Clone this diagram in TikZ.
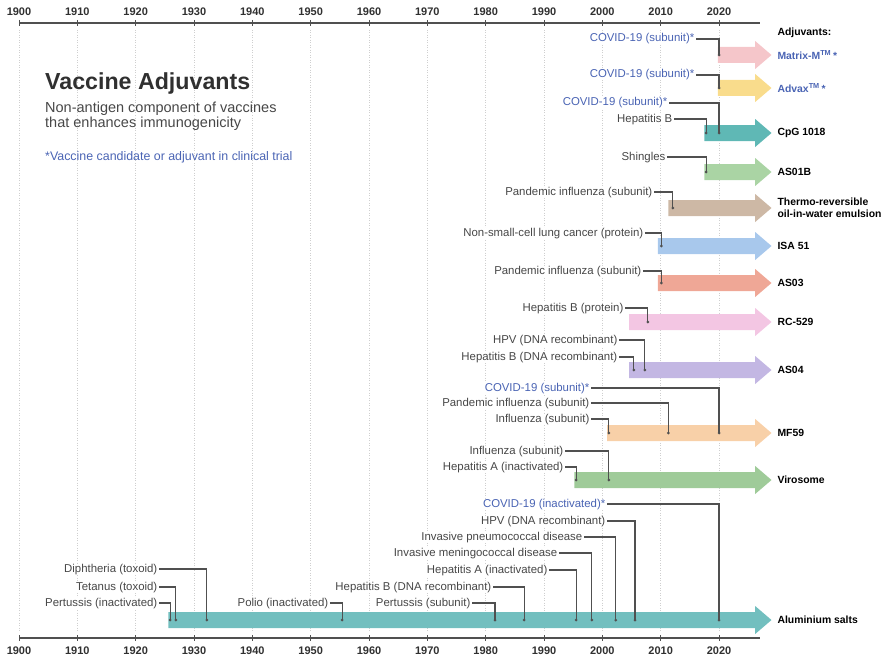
\documentclass[tikz,border=0pt]{standalone}
\usepackage{fontspec}
\setmainfont{Liberation Sans}
\usetikzlibrary{positioning}

\definecolor{labgray}{HTML}{474747}
\definecolor{linegray}{HTML}{505050}
\definecolor{gridgray}{HTML}{CFCFCF}
\definecolor{titlegray}{HTML}{303030}
\definecolor{covblue}{HTML}{4A64B4}
\definecolor{cMatrix}{HTML}{F5C6CA}
\definecolor{cAdvax}{HTML}{F9DC8C}
\definecolor{cCpG}{HTML}{5FB8B5}
\definecolor{cAsOneB}{HTML}{AAD4A4}
\definecolor{cThermo}{HTML}{CDB8A5}
\definecolor{cIsa}{HTML}{A8C8EC}
\definecolor{cAsThree}{HTML}{EFA796}
\definecolor{cRc}{HTML}{F3C6E3}
\definecolor{cAsFour}{HTML}{C3B7E3}
\definecolor{cMf}{HTML}{F8D0A8}
\definecolor{cViro}{HTML}{9FCB99}
\definecolor{cAlum}{HTML}{72BFBF}

% label node, its marker on the band, and the elbow between them
\newcommand{\event}[7]{%
  \node[#2] (#1) at (#3,#4) {#7};
  \coordinate (#1-m) at (#5,#6);
  \draw[link] (#1.east) -| (#1-m);
  \fill[linegray] (#1-m) circle (1.5pt);
}

\begin{document}
\begin{tikzpicture}[x=5.8333pt, y=-1pt,
    lab/.style={anchor=east, text=labgray, fill=white, inner xsep=1.5pt, inner ysep=0.5pt,
      text height=8pt, text depth=2pt, font=\fontsize{11.4}{13}\selectfont},
    cov/.style={lab, text=covblue},
    adj/.style={anchor=west, inner sep=0pt, align=left, font=\bfseries\fontsize{10.4}{12}\selectfont},
    link/.style={draw=linegray, line width=1.1pt},
    yearlab/.style={text=titlegray, font=\bfseries\fontsize{11}{12}\selectfont}]

    \useasboundingbox (-3.2571,0) rectangle (149.3143,658);

    % time axes
    \foreach \d in {0,10,...,120} {
        \draw[gridgray, dotted, line width=0.5pt] (\d,30) -- (\d,632);
        \draw[linegray, line width=1pt] (\d,20) -- (\d,26) (\d,635) -- (\d,641);
        \pgfmathtruncatemacro{\yy}{1900+\d}
        \node[yearlab] (top\yy) at (\d,12) {\yy};
        \node[yearlab] (bot\yy) at (\d,651) {\yy};
    }
    \draw[linegray, line width=1.3pt] (0,23) -- (127,23);
    \draw[linegray, line width=1.3pt] (0,638) -- (127,638);

    % title block
    \node[anchor=base west, inner sep=0pt, text=titlegray, font=\bfseries\fontsize{23.2}{26}\selectfont] (title) at (4.46,90) {Vaccine Adjuvants};
    \node[anchor=base west, inner sep=0pt, align=left, text=labgray, font=\fontsize{14.5}{15.5}\selectfont] (subtitle) at (4.46,128) {Non-antigen component of vaccines\\that enhances immunogenicity};
    \node[anchor=base west, inner sep=0pt, text=covblue, font=\fontsize{12.4}{14}\selectfont] (note) at (4.46,160) {*Vaccine candidate or adjuvant in clinical trial};

    % adjuvant bands
    \foreach \s/\y/\c in {119.8/55/cMatrix, 119.8/88/cAdvax, 117.5/133/cCpG, 117.5/172/cAsOneB,
        111.3/208/cThermo, 109.5/246/cIsa, 109.5/283/cAsThree, 104.6/322/cRc, 104.6/370/cAsFour,
        100.8/433/cMf, 95.2/480/cViro, 25.6/620/cAlum}
        \fill[\c] (\s,\y-8) -- (126.2,\y-8) -- (126.2,\y-14) -- (129,\y) -- (126.2,\y+14)
            -- (126.2,\y+8) -- (\s,\y+8) -- cycle;

    % adjuvant names
    \node[adj] (head) at (130,33) {Adjuvants:};
    \node[adj, text=covblue] (n-matrix) at (130,55) {Matrix-M\textsuperscript{TM}\,*};
    \node[adj, text=covblue] (n-advax) at (130,88) {Advax\textsuperscript{TM}\,*};
    \node[adj] (n-cpg) at (130,133) {CpG 1018};
    \node[adj] (n-asoneb) at (130,172) {AS01B};
    \node[adj] (n-thermo) at (130,208) {Thermo-reversible\\oil-in-water emulsion};
    \node[adj] (n-isa) at (130,246) {ISA 51};
    \node[adj] (n-asthree) at (130,283) {AS03};
    \node[adj] (n-rc) at (130,322) {RC-529};
    \node[adj] (n-asfour) at (130,370) {AS04};
    \node[adj] (n-mf) at (130,433) {MF59};
    \node[adj] (n-viro) at (130,480) {Virosome};
    \node[adj] (n-alum) at (130,620) {Aluminium salts};

    % licensed vaccines and candidates
    \event{mx1}{cov}{116.06}{39}{120}{55}{COVID-19 (subunit)*}
    \event{av1}{cov}{116.06}{75}{120}{88}{COVID-19 (subunit)*}
    \event{cg1}{cov}{111.43}{103}{120}{133}{COVID-19 (subunit)*}
    \event{cg2}{lab}{112.29}{119}{117.8}{133}{Hepatitis B}
    \event{ao1}{lab}{111.09}{157}{117.8}{172}{Shingles}
    \event{tr1}{lab}{108.86}{192}{112.1}{208}{Pandemic influenza (subunit)}
    \event{is1}{lab}{107.31}{233}{110.1}{246}{Non-small-cell lung cancer (protein)}
    \event{at1}{lab}{106.97}{271}{110.1}{283}{Pandemic influenza (subunit)}
    \event{rc1}{lab}{103.89}{308}{107.8}{322}{Hepatitis B (protein)}
    \event{af1}{lab}{102.86}{340}{107.3}{370}{HPV (DNA recombinant)}
    \event{af2}{lab}{102.86}{357}{105.4}{370}{Hepatitis B (DNA recombinant)}
    \event{mf1}{cov}{98.06}{388}{120}{433}{COVID-19 (subunit)*}
    \event{mf2}{lab}{98.06}{403}{111.3}{433}{Pandemic influenza (subunit)}
    \event{mf3}{lab}{98.06}{419}{101.1}{433}{Influenza (subunit)}
    \event{vi1}{lab}{93.60}{451}{101.1}{480}{Influenza (subunit)}
    \event{vi2}{lab}{93.60}{467}{95.5}{480}{Hepatitis A (inactivated)}
    \event{al1}{cov}{100.80}{504}{120}{620}{COVID-19 (inactivated)*}
    \event{al2}{lab}{100.80}{521}{105.6}{620}{HPV (DNA recombinant)}
    \event{al3}{lab}{96.86}{537}{102.3}{620}{Invasive pneumococcal disease}
    \event{al4}{lab}{92.57}{553}{98.2}{620}{Invasive meningococcal disease}
    \event{al5}{lab}{90.86}{570}{95.5}{620}{Hepatitis A (inactivated)}
    \event{al6}{lab}{81.26}{587}{86.6}{620}{Hepatitis B (DNA recombinant)}
    \event{al7}{lab}{77.66}{603}{81.6}{620}{Pertussis (subunit)}
    \event{al8}{lab}{53.31}{603}{55.4}{620}{Polio (inactivated)}
    \event{al9}{lab}{24.00}{569}{32.2}{620}{Diphtheria (toxoid)}
    \event{al10}{lab}{24.00}{587}{26.9}{620}{Tetanus (toxoid)}
    \event{al11}{lab}{24.00}{603}{25.9}{620}{Pertussis (inactivated)}
\end{tikzpicture}
\end{document}
